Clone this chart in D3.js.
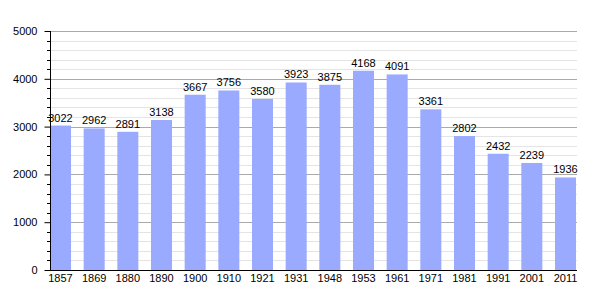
<!DOCTYPE html>
<html>
<head>
<script src="https://d3js.org/d3.v7.min.js"></script>
<style>
body { margin: 0; background: #fff; }
text { font-family: "Liberation Sans", Arial, sans-serif; }
</style>
</head>
<body>
<div id="graph"></div>
<script>
var years = ["1857", "1869", "1880", "1890", "1900", "1910", "1921", "1931", "1948", "1953", "1961", "1971", "1981", "1991", "2001", "2011"];
var population = [3022, 2962, 2891, 3138, 3667, 3756, 3580, 3923, 3875, 4168, 4091, 3361, 2802, 2432, 2239, 1936];
var yTicks = [0, 1000, 2000, 3000, 4000, 5000];

var w = 605, h = 300;
var plotLeft = 50, plotRight = 577, plotTop = 31, plotBottom = 270;

var svg = d3.select("#graph").append("svg")
  .attr("width", w)
  .attr("height", h);

var x = d3.scaleBand()
  .domain(years)
  .range([plotLeft, plotRight - 1])
  .paddingInner(0.376)
  .paddingOuter(0);

var y = d3.scaleLinear()
  .domain([0, 5000])
  .range([plotBottom, plotTop]);

// minor grid every 200
var minor = d3.range(200, 5000, 200).filter(function(d) { return d % 1000 != 0; });
svg.selectAll("line.minor")
  .data(minor)
  .enter().append("line")
  .attr("class", "minor")
  .attr("x1", plotLeft).attr("x2", plotRight)
  .attr("y1", function(d) { return Math.round(y(d)) + 0.5; })
  .attr("y2", function(d) { return Math.round(y(d)) + 0.5; })
  .attr("stroke", "#e4e4e4");

// major grid
svg.selectAll("line.major")
  .data(yTicks.slice(1))
  .enter().append("line")
  .attr("class", "major")
  .attr("x1", plotLeft).attr("x2", plotRight)
  .attr("y1", function(d) { return Math.round(y(d)) + 0.5; })
  .attr("y2", function(d) { return Math.round(y(d)) + 0.5; })
  .attr("stroke", "#aaaaaa");

// bars
svg.selectAll("rect")
  .data(population)
  .enter().append("rect")
  .attr("x", function(d, i) { return x(years[i]); })
  .attr("y", function(d) { return y(d); })
  .attr("width", x.bandwidth())
  .attr("height", function(d) { return plotBottom - y(d); })
  .attr("fill", "#99aaff");

// value labels
svg.selectAll("text.val")
  .data(population)
  .enter().append("text")
  .attr("class", "val")
  .text(function(d) { return d; })
  .attr("text-anchor", "middle")
  .attr("x", function(d, i) { return x(years[i]) + x.bandwidth() / 2; })
  .attr("y", function(d) { return y(d) - 4; })
  .attr("font-size", "11px")
  .attr("fill", "#000");

// y axis
var yAxis = d3.axisLeft(y).tickValues(yTicks).tickFormat(d3.format("d")).tickSize(6).tickPadding(7);
var ga = svg.append("g")
  .attr("transform", "translate(" + (plotLeft + 0.5) + ",0)")
  .call(yAxis);
ga.selectAll("text").attr("font-size", "11px").attr("font-family", "Liberation Sans, Arial, sans-serif");
ga.select(".domain").attr("d", "M0," + plotTop + "V" + (plotBottom + 0.5));

// minor ticks on y axis
svg.selectAll("line.mtick")
  .data(minor)
  .enter().append("line")
  .attr("class", "mtick")
  .attr("x1", plotLeft - 3).attr("x2", plotLeft)
  .attr("y1", function(d) { return Math.round(y(d)) + 0.5; })
  .attr("y2", function(d) { return Math.round(y(d)) + 0.5; })
  .attr("stroke", "#000");

// x axis
svg.append("line")
  .attr("x1", plotLeft).attr("x2", plotRight)
  .attr("y1", plotBottom + 0.5).attr("y2", plotBottom + 0.5)
  .attr("stroke", "#000");

svg.selectAll("text.yr")
  .data(years)
  .enter().append("text")
  .attr("class", "yr")
  .text(function(d) { return d; })
  .attr("text-anchor", "middle")
  .attr("x", function(d) { return x(d) + x.bandwidth() / 2; })
  .attr("y", 282)
  .attr("font-size", "11px")
  .attr("fill", "#000");
</script>
</body>
</html>
